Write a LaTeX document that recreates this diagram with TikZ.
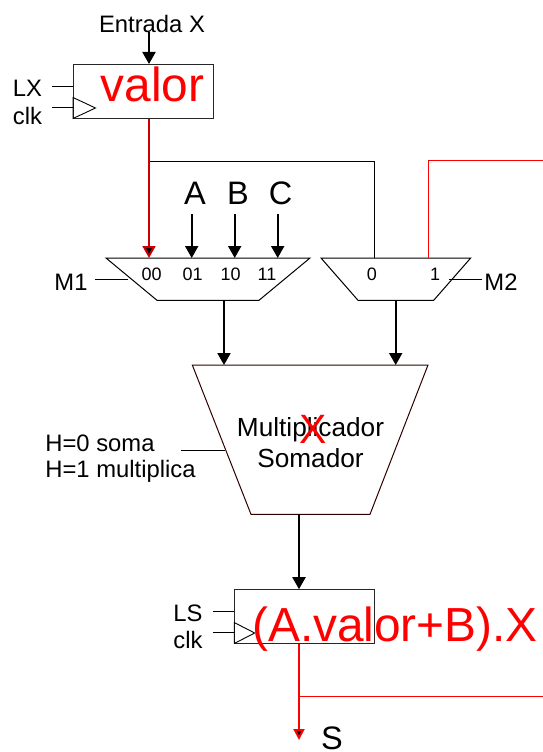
\documentclass[tikz,border=0pt]{standalone}
\usepackage{fontspec}
\setmainfont{Liberation Sans}
\usetikzlibrary{arrows.meta}
\tikzset{
  txt/.style={anchor=base,inner sep=0pt,font=\fontsize{23.8}{28}\selectfont},
  pin/.style={anchor=base,inner sep=0pt,font=\fontsize{18}{22}\selectfont},
  big/.style={anchor=base,inner sep=0pt,font=\fontsize{32.5}{38}\selectfont},
  huge/.style={anchor=base,inner sep=0pt,text=red,font=\fontsize{47.8}{54}\selectfont},
  regbox/.style={draw=black!85,line width=1pt,fill=white,inner sep=0pt},
  wire/.style={line width=0.9pt},
  bus/.style={line width=2pt,-{Triangle[length=12pt,width=13pt]}},
  redbus/.style={line width=2pt,draw=red!80!black,-{Triangle[length=12pt,width=13pt,fill=black]}},
  mux/.style={line width=1pt,fill=white,line join=miter}
}
\begin{document}
\begin{tikzpicture}[x=1pt,y=-1pt]
\useasboundingbox (0,0) rectangle (543,752);
%REGISTER X
\coordinate (inX) at (149,32);
\node[regbox,minimum width=139.5pt,minimum height=53.5pt] (regX) at (143.25,91.25) {};
\draw[wire] (regX.south west) ++(0,-21) -- ++(22.5,10.5) -- (regX.south west) -- cycle;
\coordinate (lx) at (52,86.5);
\coordinate (clkX) at (52,107.5);
\draw[wire] (lx) -- (lx -| regX.west);
\draw[wire] (clkX) -- (clkX -| regX.west);
\draw[bus] (inX) -- (inX |- regX.north);
\node[txt] (entrada) at (152,32.7) {Entrada X};
\node[txt] (lxtxt) at (27.5,96.7) {LX};
\node[txt] (clkXtxt) at (27.5,124) {clk};
\node[huge] (valor) at (152.5,101.7) {valor};

%MUX M1
\coordinate (m1a) at (106,258);
\coordinate (m1b) at (310,258);
\coordinate (m1c) at (259,300.3);
\coordinate (m1d) at (157,300.3);
\draw[mux] (m1a) -- (m1b) -- (m1c) -- (m1d) -- cycle;
\coordinate (m1tick) at (128,279);
\draw[wire] (95,279) coordinate (m1end) -- (m1tick);
\node[txt] (m1txt) at (71,290) {M1};
\node[pin] (p00) at (151.7,280) {00};
\node[pin] (p01) at (192.7,280) {01};
\node[pin] (p10) at (230.7,280) {10};
\node[pin] (p11) at (267,280) {11};

%MUX M2
\coordinate (m2a) at (321,258);
\coordinate (m2b) at (470.7,258);
\coordinate (m2c) at (433.7,300.3);
\coordinate (m2d) at (358,300.3);
\draw[mux] (m2a) -- (m2b) -- (m2c) -- (m2d) -- cycle;
\coordinate (m2tick) at (449,279);
\draw[wire] (m2tick) -- (481.7,279) coordinate (m2end);
\node[txt] (m2txt) at (501,290) {M2};
\node[pin] (q0) at (372,280) {0};
\node[pin] (q1) at (435,280) {1};

%INPUTS
\node[big] (A) at (195,204.7) {A};
\node[big] (B) at (238,204.7) {B};
\node[big] (C) at (280.7,204.7) {C};
\coordinate (inA) at (191.7,214);
\coordinate (inB) at (234.7,214);
\coordinate (inC) at (277.7,214);
\draw[bus] (inA) -- (inA |- m1a);
\draw[bus] (inB) -- (inB |- m1a);
\draw[bus] (inC) -- (inC |- m1a);
\coordinate (splitX) at (149,161);
\coordinate (m2in0) at (374.5,258);
\coordinate (m2in1) at (428,258);
\coordinate (fromS) at (543,160);
\draw[wire] (splitX) -| (m2in0);
\draw[wire,red] (m2in1) |- (fromS);
\draw[redbus] (splitX |- regX.south) -- (splitX |- m1a);

%SOMADOR
\coordinate (sa) at (192.3,365);
\coordinate (sb) at (428,365);
\coordinate (sc) at (370,514.3);
\coordinate (sd) at (251,514.3);
\draw[mux,draw=black!70!red!60!black] (sa) -- (sb) -- (sc) -- (sd) -- cycle;
\draw[bus] (224,300.3) coordinate (m1out) -- (m1out |- sa);
\draw[bus] (395.7,300.3) coordinate (m2out) -- (m2out |- sa);
\coordinate (htick) at (225,450);
\draw[wire] (181,450) coordinate (hend) -- (htick);
\node[txt,anchor=base west] (h0) at (45.2,451) {H=0 soma};
\node[txt,anchor=base west] (h1) at (45.2,477.7) {H=1 multiplica};
\node[anchor=base,inner sep=0pt,font=\fontsize{26.2}{30}\selectfont] (mult) at (310.5,436) {Multiplicador};
\node[anchor=base,inner sep=0pt,font=\fontsize{26.2}{30}\selectfont] (soma) at (310.5,467) {Somador};
\node[anchor=base,inner sep=0pt,text=red,font=\fontsize{41}{46}\selectfont] (xmark) at (313,443) {X};

%REGISTER S
\node[regbox,minimum width=139.3pt,minimum height=53.3pt] (regS) at (304.35,616.35) {};
\draw[wire] (regS.south west) ++(0,-21) -- ++(20.5,10.5) -- (regS.south west) -- cycle;
\draw[bus] (299,514.3) coordinate (sout) -- (sout |- regS.north);
\coordinate (ls) at (213,611);
\coordinate (clkS) at (213,632.5);
\draw[wire] (ls) -- (ls -| regS.west);
\draw[wire] (clkS) -- (clkS -| regS.west);
\node[txt] (lstxt) at (188,621.7) {LS};
\node[txt] (clkStxt) at (188,648) {clk};
\node[huge] (expr) at (395,641) {(A.valor+B).X};

%SAIDA
\coordinate (outS) at (299,740);
\coordinate (toM2) at (543,696.7);
\draw[wire,red] (outS |- toM2) -- (toM2);
\draw[line width=2pt,draw=red,-{Triangle[length=11pt,width=11pt,fill=black]}] (outS |- regS.south) -- (outS);
\node[big] (S) at (332,749.3) {S};
\end{tikzpicture}
\end{document}
